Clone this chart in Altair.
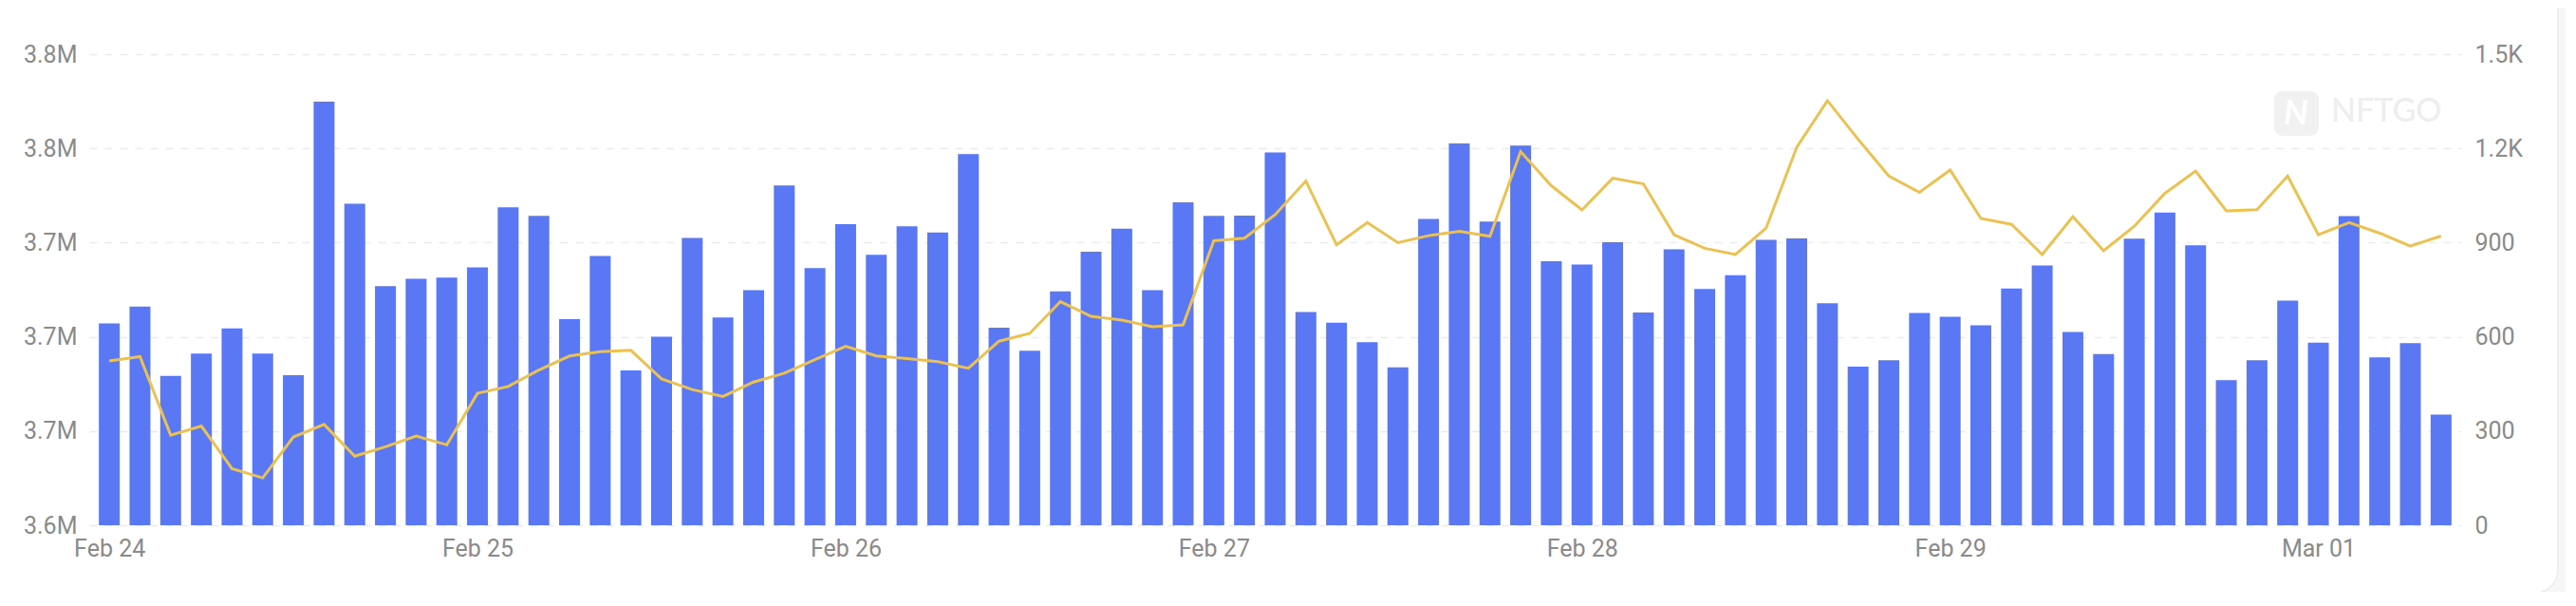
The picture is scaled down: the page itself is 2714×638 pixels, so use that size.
import altair as alt
import pandas as pd

# Bar series (left axis, millions)
bar_values = [
    3.7057, 3.7128, 3.6834, 3.6929, 3.7036, 3.6929, 3.6837, 3.7998, 3.7565, 3.7215,
    3.7246, 3.7251, 3.7295, 3.7550, 3.7514, 3.7075, 3.7343, 3.6857, 3.7000, 3.7420,
    3.7082, 3.7198, 3.7643, 3.7292, 3.7478, 3.7348, 3.7469, 3.7443, 3.7776, 3.7039,
    3.6941, 3.7193, 3.7361, 3.7459, 3.7198, 3.7571, 3.7514, 3.7515, 3.7783, 3.7105,
    3.7060, 3.6977, 3.6870, 3.7500, 3.7821, 3.7489, 3.7812, 3.7321, 3.7307, 3.7402,
    3.7103, 3.7371, 3.7203, 3.7261, 3.7412, 3.7418, 3.7143, 3.6873, 3.6901, 3.7101,
    3.7085, 3.7049, 3.7205, 3.7303, 3.7021, 3.6927, 3.7417, 3.7528, 3.7389, 3.6816,
    3.6901, 3.7154, 3.6975, 3.7512, 3.6913, 3.6973, 3.6670,
]

# Line series (right axis)
line_values = [
    523, 537, 287, 316, 180, 151, 281, 321, 220, 250,
    284, 256, 420, 442, 494, 539, 553, 557, 466, 432,
    410, 456, 484, 527, 570, 539, 531, 521, 500, 586,
    611, 712, 665, 653, 632, 638, 906, 914, 989, 1096,
    893, 964, 900, 922, 936, 920, 1190, 1081, 1004, 1105,
    1087, 925, 882, 862, 946, 1204, 1352, 1229, 1112, 1060,
    1131, 977, 958, 862, 983, 874, 952, 1057, 1128, 1001,
    1005, 1112, 925, 964, 930, 889, 921,
]

times = pd.date_range("2024-02-24 00:00", periods=len(bar_values), freq="2h")
left_ticks = [3.62, 3.66, 3.70, 3.74, 3.78, 3.82]
right_ticks = [0, 300, 600, 900, 1200, 1500]
day_ticks = [alt.DateTime(year=2024, month=m, date=d) for m, d in
             [(2, 24), (2, 25), (2, 26), (2, 27), (2, 28), (2, 29), (3, 1)]]

df = pd.DataFrame({
    "time": times.strftime("%Y-%m-%dT%H:%M:%S"),
    "bar": bar_values,
    "line": line_values,
})

LABEL_COLOR = "#8a8a8a"
FONT = "Roboto"

x_enc = alt.X(
    "time:T",
    title=None,
    scale=alt.Scale(domain=[alt.DateTime(year=2024, month=2, date=23, hours=23),
                            alt.DateTime(year=2024, month=3, date=1, hours=9)]),
    axis=alt.Axis(values=day_ticks, format="%b %d", grid=False, ticks=False,
                  domain=False, labelPadding=12, labelFontSize=25,
                  labelColor=LABEL_COLOR, labelFont=FONT, labelFlush=False),
)

base = alt.Chart(df)

bars = base.mark_bar(size=22, color="#5a77f4").encode(
    x=x_enc,
    y=alt.Y("bar:Q", title=None,
            scale=alt.Scale(domain=[3.62, 3.82], nice=False, zero=False),
            axis=alt.Axis(values=left_ticks, orient="left",
                          labelExpr="format(datum.value, '.1f') + 'M'",
                          grid=True, gridDash=[8, 8], gridColor="#ebebeb",
                          gridWidth=1.5, ticks=False, domain=False,
                          labelPadding=13, labelFontSize=25,
                          labelColor=LABEL_COLOR, labelFont=FONT)),
    y2=alt.datum(left_ticks[0]),
)

line = base.mark_line(color="#ebc252", strokeWidth=3).encode(
    x=x_enc,
    y=alt.Y("line:Q", title=None,
            scale=alt.Scale(domain=[0, 1500], nice=False),
            axis=alt.Axis(values=right_ticks, orient="right",
                          labelExpr="datum.value >= 1000 ? format(datum.value / 1000, '.1f') + 'K' : format(datum.value, 'd')",
                          grid=False, ticks=False, domain=False,
                          labelPadding=14, labelFontSize=25,
                          labelColor=LABEL_COLOR, labelFont=FONT)),
)

one = pd.DataFrame({"k": [0]})

logo_box = alt.Chart(one).mark_rect(color="#f1f1f1", cornerRadius=9).encode(
    x=alt.value(2302), x2=alt.value(2349), y=alt.value(39), y2=alt.value(86)
)
logo_n = alt.Chart(one).mark_text(
    text="N", font="Lato", fontSize=36, fontWeight="bold", fontStyle="italic",
    color="#ffffff", align="center", baseline="middle"
).encode(x=alt.value(2325), y=alt.value(63))
logo_text = alt.Chart(one).mark_text(
    text="NFTGO", font="Lato", fontSize=34, fontWeight=500,
    color="#eeeeee", align="left", baseline="middle"
).encode(x=alt.value(2362), y=alt.value(61))

# card outline: thick grey stroke outside the card, thin border on its edge
card_outer = alt.Chart(one).mark_rect(
    fill=None, stroke="#f6f6f7", strokeWidth=80, cornerRadius=64
).encode(x=alt.value(-400), x2=alt.value(2641), y=alt.value(-400), y2=alt.value(607))
card_edge = alt.Chart(one).mark_rect(
    fill=None, stroke="#ebebeb", strokeWidth=1.5, cornerRadius=24
).encode(x=alt.value(-400), x2=alt.value(2601), y=alt.value(-400), y2=alt.value(567))

chart = alt.layer(
    bars, line, logo_box, logo_n, logo_text, card_outer, card_edge
).resolve_scale(y="independent").properties(
    width=2499, height=496,
    autosize=alt.AutoSizeParams(type="none"),
    padding={"left": 86, "top": 49, "right": 110, "bottom": 70},
    background="#ffffff",
).configure_view(stroke=None)

chart.save("out.html", embed_options={"renderer": "svg", "actions": False})
